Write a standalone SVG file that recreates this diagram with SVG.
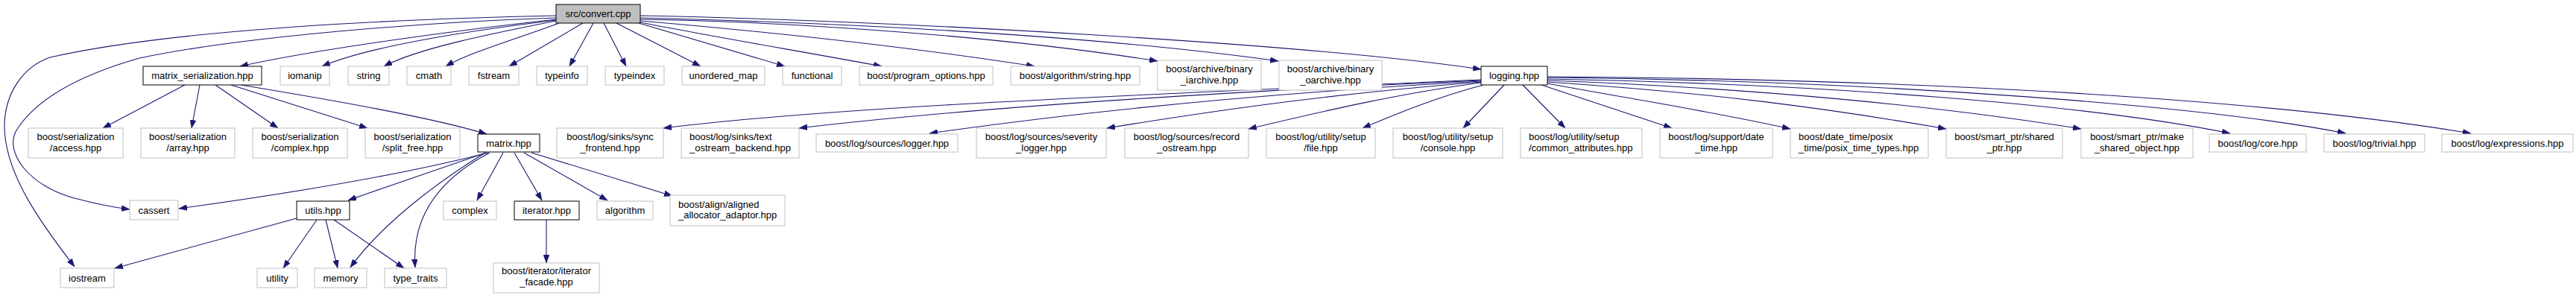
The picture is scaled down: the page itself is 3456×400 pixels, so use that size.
<svg xmlns="http://www.w3.org/2000/svg" width="3456" height="400" viewBox="0 0 3456 400">
<style>
.n rect{fill:#fff;stroke:#bfbfbf;stroke-width:1}
.n.d rect{stroke:#000}
.n.r rect{fill:#bfbfbf;stroke:#000}
text{font-family:"Liberation Sans",Arial,sans-serif;font-size:13px;fill:#000;text-anchor:middle}
text.l{text-anchor:start}
.e path{fill:none;stroke:#191970;stroke-width:1.1;marker-end:url(#a)}
</style>
<defs>
<marker id="a" markerUnits="userSpaceOnUse" markerWidth="11" markerHeight="8" viewBox="0 0 11 8" refX="11" refY="4" orient="auto">
<path d="M0,0 L11,4 L0,8 z" fill="#191970" stroke="#191970" stroke-width="0.5"/>
</marker>
</defs>
<rect width="3456" height="400" fill="#fff"/>
<g class="e" id="edges">
<path d="M746,21 C 520,26 230,40 67,77 C 30,90 8,125 6,165 C 4,230 55,300 100,358"/>
<path d="M746,24 C 560,30 320,50 187,78 C 110,100 50,130 22,175 C 5,205 40,250 100,266 C 130,274 150,278 174,281"/>
<path d="M746,26 C 620,40 430,65 322,89"/>
<path d="M746,27 C 640,40 500,60 432,89"/>
<path d="M746,28 C 660,45 560,65 515,89"/>
<path d="M750,31 C 700,50 630,70 598,89"/>
<path d="M782,31 L683,89"/>
<path d="M796,31 L764,89"/>
<path d="M810,31 L840,89"/>
<path d="M827,31 L940,89"/>
<path d="M857,31 L1053,89"/>
<path d="M859,30 C 950,48 1080,70 1183,89"/>
<path d="M859,28 C 1000,40 1200,60 1388,89"/>
<path d="M859,26 C 1000,28 1300,42 1553,82"/>
<path d="M859,24 C 1100,30 1450,45 1715,82"/>
<path d="M859,21 C 1200,28 1750,58 1987,93"/>
<path d="M248,114 L138,172"/>
<path d="M268,114 L257,172"/>
<path d="M289,114 L373,172"/>
<path d="M310,114 L493,172"/>
<path d="M323,114 C 450,135 580,158 653,180"/>
<path d="M655,205 C 550,232 400,258 240,280"/>
<path d="M652,205 C 580,230 520,250 467,269"/>
<path d="M651,205 C 610,230 520,290 470,359"/>
<path d="M657,205 C 590,240 552,290 557,359"/>
<path d="M675,205 L640,269"/>
<path d="M690,205 L727,269"/>
<path d="M703,205 L815,269"/>
<path d="M713,205 L902,263"/>
<path d="M398,293 L154,360"/>
<path d="M425,295 L380,360"/>
<path d="M437,295 L453,360"/>
<path d="M448,295 L542,360"/>
<path d="M733,295 L733,353"/>
<path d="M1987,107 C 1600,125 1150,140 890,172"/>
<path d="M1987,108 C 1600,125 1300,145 1072,172"/>
<path d="M1987,109 C 1700,125 1450,150 1247,179"/>
<path d="M1987,110 C 1800,125 1650,145 1485,172"/>
<path d="M1987,111 C 1880,125 1780,148 1675,173"/>
<path d="M1990,114 C 1930,130 1880,150 1828,172"/>
<path d="M2018,114 L1963,172"/>
<path d="M2043,114 L2100,172"/>
<path d="M2068,114 L2243,172"/>
<path d="M2076,112 C 2200,135 2300,150 2402,173"/>
<path d="M2076,110 C 2300,125 2450,145 2611,173"/>
<path d="M2076,108 C 2350,118 2600,142 2792,173"/>
<path d="M2076,106 C 2450,113 2800,140 2992,179"/>
<path d="M2076,104 C 2500,108 2950,140 3147,179"/>
<path d="M2076,103 C 2600,106 3050,135 3315,179"/>
</g>
<g class="n r" id="n_root"><rect x="746" y="6" width="113" height="25"/><text x="802.5" y="23">src/convert.cpp</text></g>
<g class="n d" id="n_matser"><rect x="192" y="89" width="159" height="25"/><text x="271.5" y="106">matrix_serialization.hpp</text></g>
<g class="n" id="n_iomanip"><rect x="376" y="89" width="66" height="25"/><text x="409" y="106">iomanip</text></g>
<g class="n" id="n_string"><rect x="467" y="89" width="55" height="25"/><text x="494.5" y="106">string</text></g>
<g class="n" id="n_cmath"><rect x="546" y="89" width="59" height="25"/><text x="575.5" y="106">cmath</text></g>
<g class="n" id="n_fstream"><rect x="629" y="89" width="67" height="25"/><text x="662.5" y="106">fstream</text></g>
<g class="n" id="n_typeinfo"><rect x="720" y="89" width="68" height="25"/><text x="754" y="106">typeinfo</text></g>
<g class="n" id="n_typeindex"><rect x="812" y="89" width="79" height="25"/><text x="851.5" y="106">typeindex</text></g>
<g class="n" id="n_umap"><rect x="915" y="89" width="111" height="25"/><text x="970.5" y="106">unordered_map</text></g>
<g class="n" id="n_functional"><rect x="1050" y="89" width="79" height="25"/><text x="1089.5" y="106">functional</text></g>
<g class="n" id="n_progopt"><rect x="1153" y="89" width="179" height="25"/><text x="1242.5" y="106">boost/program_options.hpp</text></g>
<g class="n" id="n_algstr"><rect x="1356" y="89" width="173" height="25"/><text x="1442.5" y="106">boost/algorithm/string.hpp</text></g>
<g class="n" id="n_iarch"><rect x="1553" y="81" width="139" height="40"/><text x="1622.5" y="97">boost/archive/binary<tspan x="1622.5" y="112">_iarchive.hpp</tspan></text></g>
<g class="n" id="n_oarch"><rect x="1716" y="81" width="138" height="40"/><text x="1785" y="97">boost/archive/binary<tspan x="1785" y="112">_oarchive.hpp</tspan></text></g>
<g class="n d" id="n_logging"><rect x="1987" y="89" width="89" height="25"/><text x="2031.5" y="106">logging.hpp</text></g>
<g class="n" id="n_access"><rect x="38" y="172" width="127" height="40"/><text x="101.5" y="188">boost/serialization<tspan x="101.5" y="203">/access.hpp</tspan></text></g>
<g class="n" id="n_array"><rect x="189" y="172" width="126" height="40"/><text x="252" y="188">boost/serialization<tspan x="252" y="203">/array.hpp</tspan></text></g>
<g class="n" id="n_scomplex"><rect x="339" y="172" width="127" height="40"/><text x="402.5" y="188">boost/serialization<tspan x="402.5" y="203">/complex.hpp</tspan></text></g>
<g class="n" id="n_split"><rect x="490" y="172" width="127" height="40"/><text x="553.5" y="188">boost/serialization<tspan x="553.5" y="203">/split_free.hpp</tspan></text></g>
<g class="n d" id="n_matrix"><rect x="641" y="180" width="83" height="24"/><text x="682.5" y="196.5">matrix.hpp</text></g>
<g class="n" id="n_sync"><rect x="747" y="172" width="143" height="40"/><text x="818.5" y="188">boost/log/sinks/sync<tspan x="818.5" y="203">_frontend.hpp</tspan></text></g>
<g class="n" id="n_text"><rect x="914" y="172" width="158" height="40"/><text class="l" x="925" y="188">boost/log/sinks/text<tspan x="925" y="203">_ostream_backend.hpp</tspan></text></g>
<g class="n" id="n_logger"><rect x="1095" y="180" width="190" height="24"/><text x="1190" y="196.5">boost/log/sources/logger.hpp</text></g>
<g class="n" id="n_severity"><rect x="1310" y="172" width="174" height="40"/><text x="1397" y="188">boost/log/sources/severity<tspan x="1397" y="203">_logger.hpp</tspan></text></g>
<g class="n" id="n_record"><rect x="1509" y="172" width="166" height="40"/><text x="1592" y="188">boost/log/sources/record<tspan x="1592" y="203">_ostream.hpp</tspan></text></g>
<g class="n" id="n_file"><rect x="1699" y="172" width="146" height="40"/><text x="1772" y="188">boost/log/utility/setup<tspan x="1772" y="203">/file.hpp</tspan></text></g>
<g class="n" id="n_console"><rect x="1869" y="172" width="147" height="40"/><text x="1942.5" y="188">boost/log/utility/setup<tspan x="1942.5" y="203">/console.hpp</tspan></text></g>
<g class="n" id="n_common"><rect x="2040" y="172" width="163" height="40"/><text class="l" x="2051" y="188">boost/log/utility/setup<tspan x="2051" y="203">/common_attributes.hpp</tspan></text></g>
<g class="n" id="n_datetime"><rect x="2227" y="172" width="151" height="40"/><text x="2302.5" y="188">boost/log/support/date<tspan x="2302.5" y="203">_time.hpp</tspan></text></g>
<g class="n" id="n_posix"><rect x="2402" y="172" width="185" height="40"/><text class="l" x="2413" y="188">boost/date_time/posix<tspan x="2413" y="203">_time/posix_time_types.hpp</tspan></text></g>
<g class="n" id="n_shared"><rect x="2611" y="172" width="156" height="40"/><text x="2689" y="188">boost/smart_ptr/shared<tspan x="2689" y="203">_ptr.hpp</tspan></text></g>
<g class="n" id="n_make"><rect x="2792" y="172" width="150" height="40"/><text x="2867" y="188">boost/smart_ptr/make<tspan x="2867" y="203">_shared_object.hpp</tspan></text></g>
<g class="n" id="n_core"><rect x="2964" y="180" width="130" height="24"/><text x="3029" y="196.5">boost/log/core.hpp</text></g>
<g class="n" id="n_trivial"><rect x="3118" y="180" width="135" height="24"/><text x="3185.5" y="196.5">boost/log/trivial.hpp</text></g>
<g class="n" id="n_expr"><rect x="3276" y="180" width="176" height="24"/><text x="3364" y="196.5">boost/log/expressions.hpp</text></g>
<g class="n" id="n_cassert"><rect x="174" y="269" width="65" height="26"/><text x="206.5" y="286.5">cassert</text></g>
<g class="n d" id="n_utils"><rect x="398" y="270" width="71" height="25"/><text x="433.5" y="287">utils.hpp</text></g>
<g class="n" id="n_complex"><rect x="595" y="270" width="71" height="25"/><text x="630.5" y="287">complex</text></g>
<g class="n d" id="n_iterator"><rect x="690" y="270" width="87" height="25"/><text x="733.5" y="287">iterator.hpp</text></g>
<g class="n" id="n_algorithm"><rect x="801" y="270" width="75" height="25"/><text x="838.5" y="287">algorithm</text></g>
<g class="n" id="n_aligned"><rect x="899" y="262" width="154" height="41"/><text class="l" x="910" y="279">boost/align/aligned<tspan x="910" y="293">_allocator_adaptor.hpp</tspan></text></g>
<g class="n" id="n_iostream"><rect x="81" y="360" width="72" height="26"/><text x="117" y="377.5">iostream</text></g>
<g class="n" id="n_utility"><rect x="345" y="360" width="54" height="26"/><text x="372" y="377.5">utility</text></g>
<g class="n" id="n_memory"><rect x="422" y="360" width="70" height="26"/><text x="457" y="377.5">memory</text></g>
<g class="n" id="n_typetraits"><rect x="516" y="360" width="83" height="26"/><text x="557.5" y="377.5">type_traits</text></g>
<g class="n" id="n_facade"><rect x="662" y="353" width="142" height="40"/><text x="733" y="368">boost/iterator/iterator<tspan x="733" y="383">_facade.hpp</tspan></text></g>
</svg>
